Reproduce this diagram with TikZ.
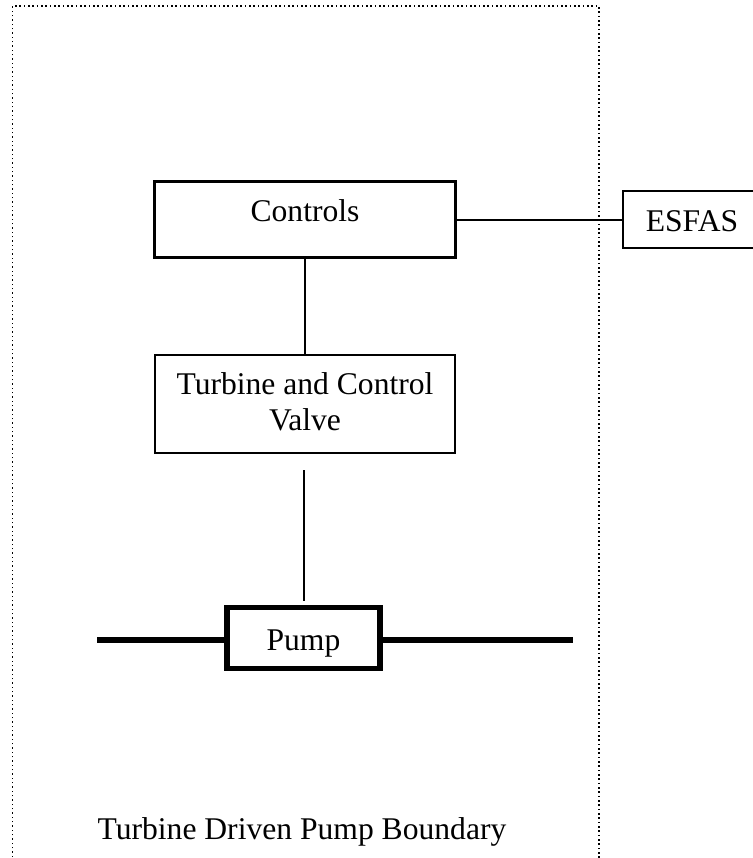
\documentclass[tikz,border=0pt]{standalone}
\usepackage{fontspec}
\setmainfont{Liberation Serif}
\begin{document}
\begin{tikzpicture}[x=0.75pt,y=-0.75pt,
  every node/.style={inner sep=0pt, outer sep=0pt},
  box/.style={draw, line width=1.6pt, rectangle},
  heavybox/.style={draw, line width=4.2pt, rectangle},
  wire/.style={line width=1.5pt},
  pipe/.style={line width=3.8pt},
  boundary/.style={line width=1.2pt, dash pattern=on 1.1pt off 2.15pt},
  label/.style={anchor=base, font=\fontsize{23.7}{27}\selectfont, align=center}]
  \useasboundingbox (0,0) rectangle (753,858);
  \clip (0,0) rectangle (753,858);

  % system boundary (open at the bottom)
  \coordinate (bl) at (12.5,870);
  \coordinate (tl) at (12.5,6);
  \coordinate (tr) at (599,6);
  \coordinate (br) at (599,870);
  \draw[boundary] (bl) -- (tl) -- (tr) -- (br);

  % component boxes
  \node[box, minimum width=225.75pt, minimum height=57pt] (controls) at (305,219.5) {};
  \node[box, minimum width=225pt, minimum height=73.5pt] (turbine) at (305,404) {};
  \node[box, minimum width=125.25pt, minimum height=42.75pt] (esfas) at (706.5,219.5) {};
  \node[heavybox, minimum width=115pt, minimum height=45.5pt] (pump) at (303.5,638) {};

  % labels
  \node[label] (controlsText) at (305,221.7) {Controls};
  \node[label] (turbineText1) at (305,394) {Turbine and Control};
  \node[label] (turbineText2) at (305,430) {Valve};
  \node[label] (esfasText) at (692,231) {ESFAS};
  \node[label] (pumpText) at (303.5,650) {Pump};
  \node[label] (boundaryText) at (302,839) {Turbine Driven Pump Boundary};

  % signal connections
  \draw[wire] (controls.east) -- (esfas.west);
  \draw[wire] (controls.south) -- (turbine.north);
  \coordinate (shaftTop) at (304,470);
  \coordinate (shaftBot) at (304,601);
  \draw[wire] (shaftTop) -- (shaftBot);

  % process piping through the pump
  \coordinate (pipeL) at (97,640);
  \coordinate (pipeR) at (573,640);
  \draw[pipe] (pipeL) -- (pipeL -| pump.west);
  \draw[pipe] (pump.east |- pipeR) -- (pipeR);
\end{tikzpicture}
\end{document}
